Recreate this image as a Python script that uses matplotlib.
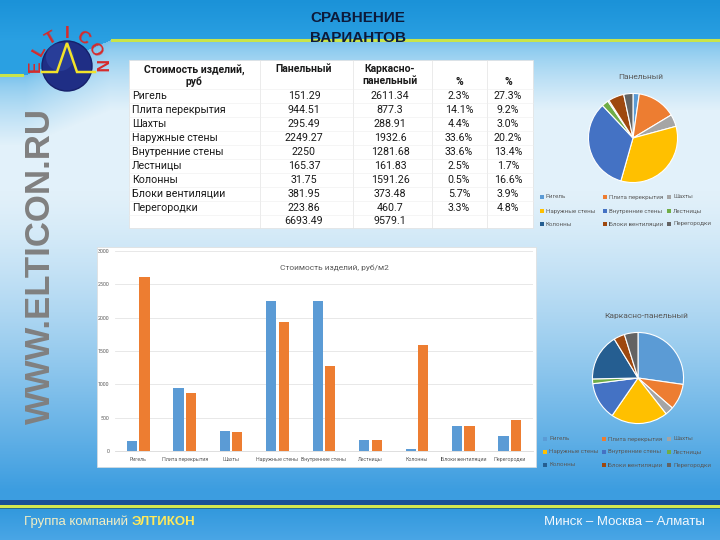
import numpy as np
import matplotlib
matplotlib.use("Agg")
import matplotlib.pyplot as plt
from matplotlib.patches import Rectangle, Circle

# данные из таблицы
items = ['Ригель', 'Плита перекрытия', 'Шахты', 'Наружные стены', 'Внутренние стены',
         'Лестницы', 'Колонны', 'Блоки вентиляции', 'Перегородки']
panel = [151.29, 944.51, 295.49, 2249.27, 2250, 165.37, 31.75, 381.95, 223.86]
frame = [2611.34, 877.3, 288.91, 1932.6, 1281.68, 161.83, 1591.26, 373.48, 460.7]
panel_pct = ['2.3%', '14.1%', '4.4%', '33.6%', '33.6%', '2.5%', '0.5%', '5.7%', '3.3%']
frame_pct = ['27.3%', '9.2%', '3.0%', '20.2%', '13.4%', '1.7%', '16.6%', '3.9%', '4.8%']
panel_total = '6693.49'
frame_total = '9579.1'

pie_colors = ['#5b9bd5', '#ed7d31', '#a5a5a5', '#ffc000', '#4472c4',
              '#70ad47', '#255e91', '#9e480e', '#636363']

W, H = 720, 540
FONT = 'Roboto'
plt.rcParams['font.family'] = ['Liberation Sans', 'DejaVu Sans']

fig = plt.figure(figsize=(7.2, 5.4), dpi=100)
bg = fig.add_axes([0, 0, 1, 1])
bg.set_xlim(0, W)
bg.set_ylim(H, 0)
bg.axis('off')


def hexc(h):
    return np.array([int(h[i:i + 2], 16) for i in (1, 3, 5)]) / 255.0


def px_axes(x0, y0, x1, y1):
    return fig.add_axes([x0 / W, 1 - y1 / H, (x1 - x0) / W, (y1 - y0) / H])


# ---- фон слайда ----
yy, xx = np.mgrid[0:H, 0:W].astype(float)
light = hexc('#e2f1fa')
blue = hexc('#3c9de0')
edge = np.where(xx < 25, 75, np.where(xx > 110, 40, 75 - (xx - 25) * 35 / 85))
t_top = np.clip(yy / 40, 0, 1)[..., None]
top_col = hexc('#1b92d8') * (1 - t_top) + hexc('#2aa0e2') * t_top
t_mid = np.clip((yy - edge) / 70, 0, 1)[..., None] ** 0.7
mid_col = hexc('#74c0ec') * (1 - t_mid) + light * t_mid
w_low = (np.clip((yy - 190) / 300, 0, 1) ** 1.3)[..., None]
low_col = light * (1 - w_low) + blue * w_low
img = np.where((yy < edge)[..., None], top_col, mid_col)
img = np.where((yy > 190)[..., None], low_col, img)
img[500:505] = hexc('#1b4f96')
img[505:508] = hexc('#d6e64e')
img[508:509] = hexc('#2a6a8a')
t_f = np.clip((yy[509:] - 509) / 31, 0, 1)[..., None]
img[509:] = hexc('#3399dd') * (1 - t_f) + hexc('#4aa6e6') * t_f
bg.imshow(img, extent=(0, W, H, 0), aspect='auto', zorder=0)

bg.plot([0, 22], [75, 75], color='#c9e44a', lw=2.2, zorder=1)
bg.plot([112, 720], [40, 40], color='#c9e44a', lw=2.2, zorder=1)

# ---- логотип ----
bg.add_patch(Circle((67, 66), 25, fc='#1f2e85', ec='#16206a', lw=1, zorder=2))
bg.add_patch(Circle((60, 57), 14, fc='#3450b0', ec='none', alpha=0.45, zorder=2))
bg.plot([42, 57, 67, 77, 95], [72, 72, 43, 72, 72], color='#f2e32a', lw=1.8,
        zorder=3, solid_joinstyle='miter')
for ch, ang in zip('ELTICON', [180, 150, 120, 90, 60, 30, 0]):
    a = np.radians(ang)
    bg.text(67 + 32 * np.cos(a), 66 - 32 * np.sin(a), ch, rotation=ang - 90,
            ha='center', va='center', fontsize=12.5, fontweight='bold',
            color='#d62b2b', zorder=3)

bg.text(40, 266, 'WWW.ELTICON.RU', rotation=90, ha='center', va='center',
        fontsize=25, fontweight='bold', color='#808080', zorder=2)

# ---- заголовок ----
bg.text(310, 18, 'СРАВНЕНИЕ', fontsize=11, fontweight='bold', color='#0d1a3a',
        va='center', ha='left', zorder=3)
bg.text(310, 38, 'ВАРИАНТОВ', fontsize=11, fontweight='bold', color='#0d1a3a',
        va='center', ha='left', zorder=3)

# ---- таблица ----
tx0, tx1, ty0, ty1 = 129, 533, 60, 228
bg.add_patch(Rectangle((tx0, ty0), tx1 - tx0, ty1 - ty0, fc='white', ec='#e0e0e0',
                       lw=0.5, zorder=2))
for xv in [260, 353, 432, 487]:
    bg.plot([xv, xv], [ty0, ty1], color='#e3e3e3', lw=0.5, zorder=3)
row_y0 = 96
row_h = 14
for i in range(10):
    yb = row_y0 - row_h / 2 + i * row_h
    bg.plot([tx0, tx1], [yb, yb], color='#eeeeee', lw=0.4, zorder=3)

hdr = dict(fontsize=7.5, fontweight='bold', family=FONT, color='#1a1a1a',
           ha='center', va='center', zorder=4)
bg.text(194, 70, 'Стоимость изделий,', **hdr)
bg.text(194, 82, 'руб', **hdr)
bg.text(304, 69, 'Панельный', **hdr)
bg.text(390, 69, 'Каркасно-', **hdr)
bg.text(390, 81, 'панельный', **hdr)
bg.text(459, 82, '%', **hdr)
bg.text(508, 82, '%', **hdr)

cell = dict(fontsize=7.7, family=FONT, color='#1a1a1a', va='center', zorder=4)
for i, name in enumerate(items):
    yc = row_y0 + i * row_h
    bg.text(132, yc, name, ha='left', **cell)
    bg.text(304, yc, f'{panel[i]:g}', ha='center', **cell)
    bg.text(390, yc, f'{frame[i]:g}', ha='center', **cell)
    bg.text(459, yc, panel_pct[i], ha='center', **cell)
    bg.text(508, yc, frame_pct[i], ha='center', **cell)
yc = row_y0 + 9 * row_h - 1
bg.text(304, yc, panel_total, ha='center', **cell)
bg.text(390, yc, frame_total, ha='center', **cell)

# ---- столбчатая диаграмма ----
bg.add_patch(Rectangle((97, 247), 439, 220, fc='white', ec='#dddddd', lw=0.5, zorder=2))
bx = px_axes(115, 251, 533, 451)
bx.set_facecolor('none')
x = np.arange(len(items))
bx.bar(x - 0.135, panel, 0.22, color='#5b9bd5', zorder=3)
bx.bar(x + 0.135, frame, 0.22, color='#ed7d31', zorder=3)
bx.set_xlim(-0.5, len(items) - 0.5)
bx.set_ylim(0, 3000)
bx.set_yticks(range(0, 3001, 500))
bx.set_xticks(x)
bx.set_xticklabels(items)
bx.grid(axis='y', color='#e4e4e4', lw=0.6, zorder=0)
for s in ['top', 'right', 'left']:
    bx.spines[s].set_visible(False)
bx.spines['bottom'].set_color('#d9d9d9')
bx.spines['bottom'].set_linewidth(0.6)
bx.tick_params(length=0, labelsize=3.8, labelcolor='#595959', pad=4)
for lab in bx.get_xticklabels() + bx.get_yticklabels():
    lab.set_family(FONT)
bg.text(334, 268, 'Стоимость изделий, руб/м2', fontsize=6, family=FONT,
        color='#595959', ha='center', va='center', zorder=4)


# ---- круговые диаграммы ----
def draw_pie(values, title, cx, cy, r, ty, leg_y, leg_x):
    ax = px_axes(cx - r, cy - r, cx + r, cy + r)
    ax.pie(values, colors=pie_colors, startangle=90, counterclock=False,
           wedgeprops=dict(edgecolor='white', linewidth=0.8))
    ax.set_xlim(-1.01, 1.01)
    ax.set_ylim(-1.01, 1.01)
    bg.text(cx + 8, ty, title, fontsize=6, family=FONT, color='#595959',
            ha='center', va='center', zorder=4)
    for k, name in enumerate(items):
        lx = leg_x[k % 3]
        ly = leg_y[k // 3]
        bg.add_patch(Rectangle((lx, ly - 2), 4, 4, fc=pie_colors[k], ec='none', zorder=4))
        bg.text(lx + 6, ly, name, fontsize=4.4, family=FONT, color='#595959',
                ha='left', va='center', zorder=4)


draw_pie(panel, 'Панельный', 633, 138, 45, 77, [197, 211, 224], [540, 603, 667])
draw_pie(frame, 'Каркасно-панельный', 638, 378, 46, 316, [439, 452, 465], [543, 602, 667])

# ---- подвал ----
foot_font = ['Liberation Sans Narrow', 'Liberation Sans']
t1 = bg.text(24, 522, 'Группа компаний ', fontsize=9.5, color='#f2eec4', ha='left',
             va='center', family=foot_font, zorder=4)
fig.canvas.draw()
ext = t1.get_window_extent()
bg.text(ext.x1, 522, 'ЭЛТИКОН', fontsize=9.5, fontweight='bold', color='#ffe95a',
        ha='left', va='center', family=foot_font, zorder=4)
bg.text(705, 522, 'Минск – Москва – Алматы', fontsize=9.5, color='#f4f8fc', ha='right',
        va='center', family=foot_font, zorder=4)

fig.savefig('out.png', dpi=100)
